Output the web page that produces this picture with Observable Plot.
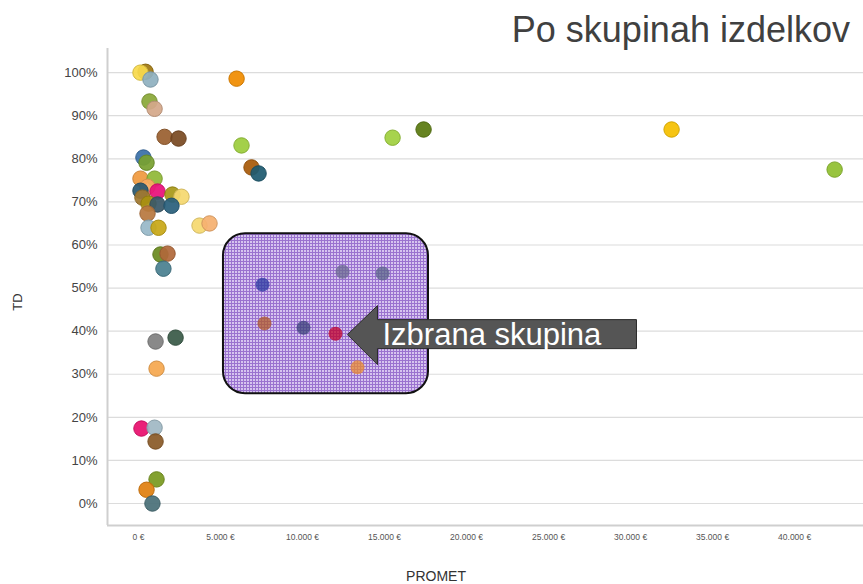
<!DOCTYPE html>
<html><head><meta charset="utf-8">
<script src="https://cdn.jsdelivr.net/npm/d3@7"></script>
<script src="https://cdn.jsdelivr.net/npm/@observablehq/plot@0.6"></script>
<style>
body{margin:0;background:#fff;font-family:"Liberation Sans",Arial,sans-serif}
#wrap{position:relative;width:863px;height:584px;overflow:hidden;background:#fff}
#title{position:absolute;right:13px;top:12px;font-size:36px;line-height:36px;color:#404040;white-space:nowrap}
#xlab{position:absolute;left:386px;width:100px;text-align:center;top:569px;font-size:14px;line-height:14px;color:#333}
#ylab{position:absolute;left:-32px;width:100px;text-align:center;top:295px;font-size:13px;line-height:14px;color:#333;transform:rotate(-90deg)}
</style></head><body>
<div id="wrap"><div id="chart"></div><div id="title">Po skupinah izdelkov</div><div id="xlab">PROMET</div><div id="ylab">TD</div></div>
<script>
// PROMET (EUR) and TD (%) per product group
const promet = [430, 120, 730, 670, 980, 1590, 2440, 5980, 6280, 6890, 7320,
  300, 490, 120, 980, 550, 120, 1160, 240, 2070, 2620, 610, 1160, 2010, 550,
  610, 1220, 3720, 4330, 1340, 1770, 1520, 1040, 2260, 1100, 180, 980, 1040,
  1100, 490, 850, 7560, 12440, 14880, 7680, 10060, 12010, 13350, 15490, 17380, 32500, 42440];
const td = [100.2, 100, 98.4, 93.3, 91.6, 85.1, 84.7, 98.6, 83.1, 78, 76.6,
  80.3, 79.1, 75.4, 75.4, 73.5, 72.6, 72.4, 71, 71.7, 71.2, 69.6, 69.4, 69.1, 67.3,
  64, 64, 64.5, 65, 57.8, 58, 54.5, 37.6, 38.5, 31.3, 17.4, 17.6, 14.4,
  5.6, 3.2, 0, 50.8, 53.8, 53.4, 41.8, 40.8, 39.4, 31.6, 84.9, 86.8, 86.8, 77.5];
const colors = ["#a07812", "#f7d94c", "#8fb0c0", "#8aa838", "#d4a88a", "#9a6030", "#7a4a22", "#f08c00", "#9ccc3c", "#a85a0a", "#1e5a70",
  "#3a70a8", "#78a030", "#f09a40", "#90b838", "#f8aa60", "#2a5870", "#e8107a", "#a07830", "#a89818", "#f5d870", "#a89010", "#3a5868", "#2a607c", "#b87840",
  "#98b8c8", "#c8a818", "#f5d870", "#f5b070", "#6a8a20", "#b0683a", "#4a8090", "#808080", "#3a5a48", "#f5a850", "#e8106e", "#a0b8c4", "#8a5a28",
  "#7a9a20", "#e08010", "#4a7078", "#2a3aa0", "#6a6a90", "#5a6488", "#b05a28", "#3a4078", "#c0002a", "#e88a30", "#a0d040", "#5a7a10", "#f5c000", "#90c030"];
const xTicks = [0, 5000, 10000, 15000, 20000, 25000, 30000, 35000, 40000];
const yTicks = [0, 10, 20, 30, 40, 50, 60, 70, 80, 90, 100];
const xDomain = [-1890, 44200];
const yDomain = [-5.1, 105.6];
// highlighted group (data coordinates)
const boxX = [5180, 17680];
const boxY = [25.5, 62.6];
const calloutX = [12740];
const calloutY = [39.2];
const calloutLabel = ["Izbrana skupina"];

const pts = promet.map((x, i) => ({x, y: td[i], c: colors[i], s: d3.color(colors[i]).darker(0.45).formatHex()}));
const inBox = d => d.x >= boxX[0] && d.x <= boxX[1] && d.y >= boxY[0] && d.y <= boxY[1];
const box = [{x1: boxX[0], x2: boxX[1], y1: boxY[0], y2: boxY[1]}];
const callout = calloutX.map((x, i) => ({x, y: calloutY[i], label: calloutLabel[i]}));
const fmtEuro = d => d3.format(",")(d).replace(/,/g, ".") + " €";
const blockArrow = {draw(ctx) {
  ctx.moveTo(0, 0); ctx.lineTo(30, -29); ctx.lineTo(30, -15); ctx.lineTo(289, -15);
  ctx.lineTo(289, 14); ctx.lineTo(30, 14); ctx.lineTo(30, 30); ctx.closePath();
}};

const chart = Plot.plot({
  width: 863, height: 584,
  marginLeft: 107, marginRight: 0, marginTop: 48, marginBottom: 59,
  style: {fontFamily: "Liberation Sans, Arial, sans-serif", background: "white", color: "#444"},
  x: {domain: xDomain},
  y: {domain: yDomain},
  color: {type: "identity"},
  marks: [
    Plot.gridY(yTicks, {stroke: "#dcdcdc", strokeOpacity: 1, strokeWidth: 1.2}),
    Plot.ruleX([xDomain[0]], {stroke: "#cfcfcf", strokeWidth: 2}),
    Plot.ruleY([yDomain[0]], {stroke: "#cfcfcf", strokeWidth: 2}),
    Plot.axisY(yTicks, {tickSize: 0, tickPadding: 10, fontSize: 13, tickFormat: d => d + "%", fill: "#444", label: null}),
    Plot.axisX(xTicks, {tickSize: 0, tickPadding: 8, fontSize: 8.5, tickFormat: fmtEuro, fill: "#555", label: null}),
    Plot.dot(pts.filter(d => !inBox(d)), {x: "x", y: "y", r: 7.7, fill: "c", stroke: "s", strokeWidth: 1, fillOpacity: 0.93}),
    Plot.rect(box, {x1: "x1", x2: "x2", y1: "y1", y2: "y2", fill: "url(#purpleGrid)", stroke: "#111", strokeWidth: 2, rx: 22}),
    Plot.dot(pts.filter(inBox), {x: "x", y: "y", r: 7, fill: "c", opacity: 0.75}),
    Plot.dot(callout, {x: "x", y: "y", symbol: blockArrow, r: 10, fill: "#555", stroke: "#2a2a2a", strokeWidth: 1}),
    Plot.text(callout, {x: "x", y: "y", text: "label", dx: 35, textAnchor: "start", fontSize: 31, fill: "white"})
  ]
});
const ns = "http://www.w3.org/2000/svg";
const defs = document.createElementNS(ns, "defs");
defs.innerHTML = '<pattern id="purpleGrid" width="3" height="3" patternUnits="userSpaceOnUse"><rect width="3" height="3" fill="#d6c4ef"/><rect width="3" height="1" fill="#9a72cf"/><rect width="1" height="3" fill="#9a72cf"/></pattern>';
chart.insertBefore(defs, chart.firstChild);
document.getElementById("chart").appendChild(chart);
</script>
</body></html>
